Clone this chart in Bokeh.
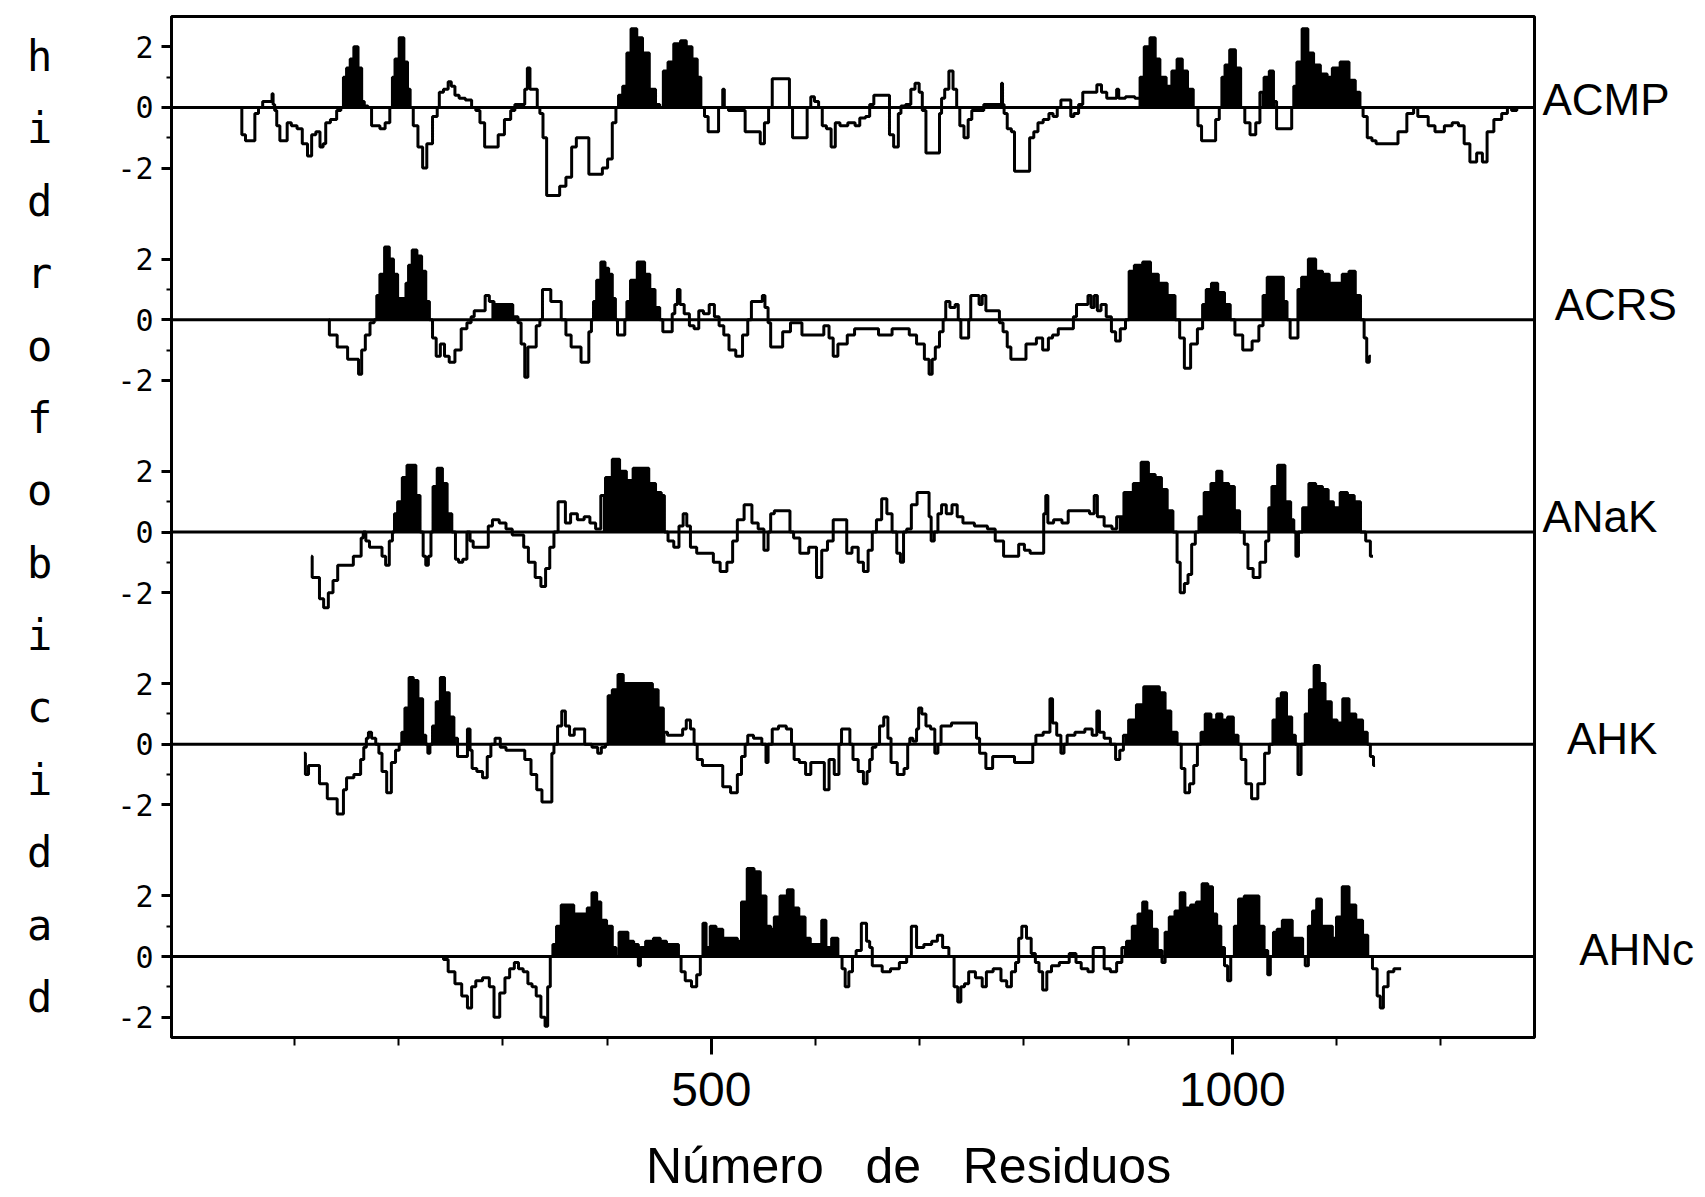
import numpy as np
from bokeh.plotting import figure
from bokeh.models import Range1d, FixedTicker, Span, LinearAxis
from bokeh.embed import file_html
from bokeh.resources import INLINE

# ---------------- data (residue, hydrophobicity) ----------------
names = ["ACMP", "ACRS", "ANaK", "AHK", "AHNc"]

ACMP = [(49,0.0),(50,-0.9),(56,-1.1),(60,-1.1),(64,-0.2),(67,0.0),(72,0.2),(78,0.2),(79,0.45),(80,0.1),(82,-0.1),(84,-0.6),(88,-1.1),(92,-1.1),(94,-0.5),(100,-0.6),(105,-0.7),(110,-1.2),(115,-1.6),(118,-0.9),(123,-0.8),(126,-1.3),(129,-1.2),(131,-0.5),(138,-0.4),(143,-0.1),(146,0.0),(148,1.0),(152,1.3),(155,1.6),(159,2.0),(163,1.3),(166,0.2),(168,0.05),(173,0.0),(175,-0.6),(180,-0.6),(184,-0.7),(190,-0.5),(193,0.0),(195,1.0),(198,1.6),(203,2.3),(207,1.5),(210,0.6),(212,0.0),(216,-0.6),(221,-1.3),(225,-2.0),(229,-1.2),(236,-0.3),(238,0.0),(240,0.5),(246,0.6),(249,0.85),(252,0.7),(256,0.4),(260,0.3),(268,0.25),(272,0.0),(276,-0.1),(280,-0.5),(285,-1.3),(293,-1.3),(298,-0.9),(305,-0.4),(310,-0.1),(313,0.1),(320,0.1),(322,0.6),(325,1.3),(327,0.6),(332,0.6),(334,0.0),(337,-0.2),(340,-1.0),(344,-2.9),(352,-2.9),(357,-2.6),(364,-2.3),(368,-1.3),(373,-1.0),(381,-1.0),(384,-2.2),(393,-2.2),(398,-2.0),(403,-1.7),(407,-0.5),(410,0.0),(412,0.4),(418,0.7),(420,1.8),(426,2.6),(431,2.3),(437,1.8),(444,0.6),(449,0.1),(452,0.0),(456,1.2),(461,1.5),(467,2.1),(474,2.2),(478,2.0),(485,1.6),(488,1.0),(492,0.0),(495,-0.3),(499,-0.8),(504,-0.8),(510,0.0),(512,0.6),(513,0.0),(520,-0.1),(530,-0.1),(535,-0.8),(545,-0.8),(549,-1.2),(553,-0.5),(557,0.0),(560,0.95),(574,0.95),(576,0.0),(580,-1.0),(590,-1.0),(594,0.0),(597,0.35),(601,0.2),(605,0.0),(608,-0.6),(613,-0.7),(617,-1.3),(621,-0.5),(626,-0.6),(636,-0.5),
        (640,-0.6),(645,-0.35),(651,-0.3),(653,0.1),(659,0.4),(670,0.4),(672,-0.9),(678,-1.3),(681,-0.2),(683,0.05),(690,0.1),(693,0.6),(698,0.8),(701,0.5),(704,-0.1),(708,-1.5),(718,-1.5),(720,-0.2),(722,0.3),(726,0.6),(730,1.2),(734,0.6),(737,0.0),(740,-0.6),(745,-1.0),(748,-0.4),(752,-0.1),(760,-0.1),(763,0.1),(778,0.1),(779,0.8),(780,0.1),(782,-0.2),(786,-0.7),(790,-0.8),(792,-2.1),(804,-2.1),(807,-1.0),(812,-0.8),(815,-0.5),(822,-0.4),(826,-0.2),(830,-0.3),(834,0.0),(837,0.25),(844,0.25),(846,-0.3),(850,-0.2),(855,0.1),(858,0.5),(868,0.5),(872,0.75),(877,0.5),(882,0.3),(888,0.3),(890,0.6),(892,0.3),(903,0.35),(910,0.3),(913,1.0),(918,2.0),(924,2.3),(928,1.6),(933,1.0),(940,0.7),(944,1.2),(950,1.6),(954,1.2),(960,0.6),(965,0.0),(969,-0.6),(972,-1.1),(982,-1.1),(986,-0.4),(989,0.0),(991,1.0),(995,1.4),(1000,1.9),(1006,1.3),(1010,0.0),(1014,-0.5),(1020,-0.9),(1025,-0.5),(1028,0.5),(1033,1.0),(1038,1.2),(1041,0.2),(1044,-0.7),(1056,-0.7),(1058,0.0),(1060,0.7),(1064,1.5),(1070,2.6),(1075,1.8),(1081,1.4),(1088,1.1),(1094,1.0),(1098,1.3),(1109,1.5),(1115,0.9),(1121,0.5),(1124,0.0),(1127,-0.3),(1132,-1.0),(1136,-1.1),(1140,-1.2),(1155,-1.2),(1163,-0.8),(1172,-0.2),(1176,0.0),(1180,-0.3),(1186,-0.3),(1190,-0.6),(1199,-0.8),(1208,-0.6),(1214,-0.5),(1220,-0.6),(1225,-1.2),(1231,-1.8),(1238,-1.5),(1242,-1.8),(1247,-0.8),(1255,-0.4),(1262,-0.2),(1266,0.0),(1270,-0.1),(1276,0.0)]

ACRS = [(133,0.0),(134,-0.5),(140,-0.5),(142,-0.9),(150,-0.9),(152,-1.3),(160,-1.3),(163,-1.8),(166,-1.0),(170,-0.5),(175,-0.1),(178,0.0),(180,0.8),(184,1.5),(189,2.4),(193,2.0),(197,1.5),(201,0.7),(206,0.7),(208,1.2),(211,1.8),(215,2.3),(220,2.1),(224,1.6),(228,0.6),(231,0.0),(234,-0.6),(238,-1.2),(242,-0.8),(246,-1.2),(251,-1.4),(257,-1.0),(263,-0.3),(268,-0.1),(271,0.1),(274,0.3),(281,0.3),(285,0.8),(289,0.6),(294,0.5),(306,0.5),(313,0.1),(316,-0.1),(319,-0.8),(323,-1.9),(325,-0.9),(330,-0.9),(334,-0.2),(337,0.0),(339,1.0),(345,1.0),(347,0.6),(354,0.6),(358,0.0),(363,-0.5),(368,-0.9),(373,-0.9),(377,-1.4),(381,-1.4),(384,-0.4),(386,0.0),(388,0.6),(392,1.3),(396,1.9),(400,1.7),(403,1.5),(407,0.7),(409,0.0),(411,-0.5),(416,-0.5),(418,0.0),(420,0.6),(425,1.3),(433,1.9),(439,1.5),(443,1.0),(449,0.4),(452,0.0),(455,-0.4),(461,-0.4),(464,0.2),(466,0.5),(469,1.0),(471,0.5),(477,0.2),(481,-0.2),(486,-0.3),(490,0.3),(495,0.2),(501,0.5),(505,0.1),(510,-0.2),(514,-0.5),(520,-1.0),(527,-1.2),(533,-0.5),(537,0.0),(540,0.6),(548,0.6),(550,0.8),(553,0.4),(556,-0.1),(558,-0.9),(565,-0.9),(572,-0.4),(580,-0.1),(585,-0.1),(589,-0.5),(605,-0.5),(611,-0.2),(615,-0.6),(619,-1.2),(624,-0.8),(628,-0.8),
        (633,-0.5),(642,-0.3),(659,-0.3),(662,-0.5),(672,-0.5),(675,-0.3),(688,-0.3),(692,-0.5),(702,-0.8),(707,-1.3),(711,-1.8),(713,-1.3),(717,-0.9),(721,-0.4),(724,0.0),(726,0.6),(732,0.4),(736,0.5),(738,0.0),(741,-0.6),(746,-0.6),(748,0.0),(750,0.8),(756,0.8),(758,0.5),(762,0.8),(765,0.3),(775,0.3),(778,-0.1),(782,-0.4),(786,-0.9),(789,-1.3),(800,-1.3),(804,-0.8),(810,-0.8),(814,-0.6),(822,-1.0),(825,-0.6),(830,-0.5),(836,-0.3),(846,-0.3),(849,0.1),(852,0.5),(860,0.5),(863,0.8),(866,0.4),(869,0.8),(872,0.3),(876,0.5),(882,0.1),(886,-0.4),(890,-0.7),(895,-0.3),(900,0.0),(902,1.6),(910,1.8),(918,1.9),(925,1.5),(933,1.2),(942,0.8),(948,0.0),(951,-0.6),(957,-1.6),(963,-0.8),(970,-0.3),(973,0.5),(977,1.0),(983,1.2),(989,0.9),(996,0.5),(1000,0.0),(1005,-0.5),(1015,-1.0),(1023,-0.7),(1028,-0.2),(1031,0.8),(1036,1.4),(1047,1.4),(1051,0.6),(1054,0.0),(1057,-0.6),(1062,-0.6),(1064,1.0),(1069,1.4),(1077,2.0),(1083,1.6),(1090,1.5),(1096,1.2),(1102,1.2),(1109,1.5),(1115,1.6),(1121,0.8),(1125,0.0),(1128,-0.6),(1130,-1.4),(1133,-1.2)]

ANaK = [(116,-0.8),(118,-1.5),(122,-1.5),(126,-2.2),(130,-2.5),(135,-2.0),(139,-1.6),(144,-1.1),(155,-1.1),(158,-0.8),(163,-0.8),(165,-0.2),(167,0.0),(170,-0.3),(174,-0.5),(182,-0.5),(186,-0.8),(189,-1.1),(193,-0.3),(195,0.0),(197,0.6),(201,1.0),(206,1.8),(210,2.2),(214,2.2),(219,1.2),(222,0.0),(225,-0.8),(227,-1.1),(230,-0.8),(232,0.0),(234,1.5),(240,2.1),(244,1.6),(249,0.6),(253,0.0),(256,-0.9),(259,-1.0),(264,-0.9),(267,0.0),(270,-0.3),(273,-0.5),(285,-0.5),(287,0.2),(293,0.4),(300,0.3),(306,0.1),(312,-0.1),(319,-0.1),(321,-0.5),(328,-1.0),(334,-1.5),(339,-1.8),(343,-1.2),(347,-0.5),(351,0.0),(355,1.0),(358,1.0),(362,0.3),(368,0.6),(375,0.4),(381,0.5),(386,0.3),(392,0.1),(396,1.2),(401,1.8),(409,2.4),(415,2.0),(422,1.7),(428,2.1),(437,2.1),(443,1.6),(450,1.3),(454,1.2),(456,0.0),(461,-0.3),(467,-0.5),(471,0.2),(475,0.6),(478,0.2),(482,-0.5),(490,-0.7),(499,-0.7),(505,-1.0),(512,-1.3),(518,-1.0),(523,-0.3),(527,0.4),(536,0.9),(542,0.3),(548,0.1),(553,-0.6),(556,0.0),(558,0.6),(563,0.7),(574,0.7),(577,0.0),(581,-0.2),(589,-0.7),(598,-0.5),(604,-1.5),(608,-0.6),(615,-0.3),(619,0.4),(628,0.4),(632,-0.7),
        (638,-0.5),(644,-1.0),(648,-1.3),(653,-0.6),(656,0.0),(661,0.4),(666,1.1),(671,0.6),(676,0.0),(680,-0.7),(683,-1.0),(686,0.0),(689,0.1),(695,0.9),(700,1.3),(708,1.3),(710,0.5),(712,-0.3),(716,0.0),(719,0.6),(723,0.9),(728,0.6),(734,0.9),(738,0.5),(745,0.3),(760,0.2),(770,0.1),(775,-0.3),(786,-0.8),(792,-0.8),(798,-0.4),(803,-0.6),(809,-0.7),(818,-0.7),(820,0.6),(822,1.2),(824,0.3),(833,0.4),(840,0.3),(845,0.7),(860,0.7),(866,0.6),(869,1.2),(872,0.5),(882,0.2),(887,0.1),(891,0.5),(901,1.3),(909,1.6),(916,2.3),(923,1.9),(929,1.8),(935,1.4),(940,0.7),(946,0.0),(948,-1.0),(952,-2.0),(956,-1.7),(959,-1.4),(963,-0.4),(966,0.0),(970,0.5),(976,1.3),(983,1.6),(987,2.0),(993,1.6),(1000,1.5),(1004,0.7),(1010,0.0),(1013,-0.4),(1017,-1.2),(1023,-1.5),(1030,-1.0),(1034,-0.3),(1036,0.8),(1040,1.5),(1047,2.2),(1054,1.0),(1058,0.4),(1060,0.0),(1062,-0.8),(1065,0.0),(1070,0.8),(1077,1.6),(1083,1.5),(1090,1.4),(1094,1.0),(1100,0.8),(1107,1.3),(1114,1.2),(1120,1.0),(1126,0.0),(1130,-0.3),(1135,-0.8)]

AHK = [(109,-0.3),(112,-1.0),(115,-0.7),(122,-0.7),(126,-1.3),(130,-1.3),(133,-1.8),(140,-1.8),(142,-2.3),(146,-2.3),(148,-1.5),(152,-1.1),(162,-1.0),(165,-0.5),(168,-0.1),(170,0.2),(172,0.4),(176,0.2),(180,0.0),(182,-0.3),(186,-0.9),(191,-1.6),(195,-0.6),(199,-0.2),(202,0.0),(204,0.4),(208,1.2),(212,2.2),(216,2.1),(221,1.5),(225,0.3),(227,0.0),(229,-0.3),(231,0.0),(234,0.6),(238,1.4),(242,2.2),(246,1.7),(251,0.9),(255,0.2),(258,-0.4),(264,-0.4),(268,0.5),(269,-0.2),(272,-0.8),(278,-0.9),(283,-1.1),(287,-0.4),(290,0.0),(295,0.2),(300,-0.1),(306,-0.2),(318,-0.2),(324,-0.5),(330,-1.0),(335,-1.5),(340,-1.9),(346,-1.9),(348,-0.3),(350,0.0),(355,0.6),(358,1.1),(362,0.6),(366,0.3),(371,0.5),(376,0.5),(381,0.0),(390,-0.1),(392,-0.3),(397,-0.1),(400,0.0),(402,1.6),(408,1.8),(413,2.3),(418,2.0),(424,2.0),(441,2.0),(446,1.8),(452,1.2),(456,0.4),(460,0.3),(471,0.3),(474,0.5),(478,0.8),(482,0.5),(485,0.0),(488,-0.5),(495,-0.7),(508,-0.7),(514,-1.4),(523,-1.6),(527,-1.0),(531,-0.4),(534,0.0),(536,0.3),(545,0.2),(552,0.0),(553,-0.6),(556,0.0),(561,0.5),(568,0.6),(576,0.5),(578,0.0),(581,-0.5),(588,-0.6),(593,-1.0),(598,-0.6),(606,-0.6),(611,-1.5),(615,-0.5),(621,-1.0),(624,0.0),(626,0.5),(632,0.5),(634,0.0),
       (638,-0.5),(644,-0.9),(648,-1.3),(651,-0.9),(653,-0.5),(656,-0.1),(660,0.0),(663,0.6),(668,0.9),(671,0.2),(674,-0.6),(683,-1.0),(687,-0.8),(690,0.0),(691,0.2),(696,0.1),(698,0.5),(700,1.2),(704,1.0),(708,0.6),(713,0.5),(716,-0.3),(719,0.0),(722,0.6),(729,0.6),(732,0.7),(753,0.7),(756,0.2),(759,-0.3),(768,-0.8),(772,-0.4),(788,-0.4),(794,-0.6),(807,-0.6),(810,0.0),(813,0.3),(824,0.4),(826,1.5),(829,0.7),(834,0.3),(837,-0.3),(840,0.0),(843,0.3),(855,0.4),(862,0.5),(869,0.3),(871,1.1),(874,0.4),(880,0.2),(886,0.0),(890,-0.5),(894,-0.2),(897,0.3),(904,0.8),(912,1.3),(918,1.9),(927,1.9),(933,1.7),(938,1.1),(944,0.4),(950,0.0),(952,-0.8),(957,-1.6),(961,-1.3),(965,-0.7),(968,0.0),(972,0.4),(976,1.0),(983,0.8),(987,1.0),(993,0.8),(998,0.9),(1004,0.3),(1007,0.0),(1010,-0.5),(1016,-1.3),(1021,-1.8),(1028,-1.3),(1034,-0.3),(1037,0.0),(1041,0.8),(1045,1.5),(1049,1.7),(1055,0.9),(1059,0.3),(1062,0.0),(1064,-1.0),(1068,0.0),(1072,1.0),(1076,1.8),(1081,2.6),(1086,2.0),(1092,1.4),(1098,0.8),(1103,0.7),(1109,1.5),(1115,1.0),(1122,0.8),(1128,0.4),(1131,0.0),(1134,-0.4),(1137,-0.7)]

AHNc = [(242,0.0),(244,-0.1),(251,-0.5),(257,-0.9),(264,-1.3),(268,-1.7),(272,-1.0),(276,-0.8),(285,-0.7),(289,-1.0),(294,-2.0),(300,-1.2),(304,-0.7),(309,-0.4),(313,-0.2),(317,-0.4),(322,-0.5),(326,-0.9),(330,-1.0),(334,-1.3),(339,-2.0),(342,-2.3),(344,-1.0),(347,0.0),(349,0.4),(354,1.0),(358,1.7),(366,1.7),(370,1.4),(379,1.4),(383,1.6),(388,2.1),(392,1.8),(396,1.2),(403,1.0),(407,0.3),(410,0.0),(413,0.8),(418,0.8),(422,0.5),(429,0.4),(431,-0.3),(433,0.3),(441,0.5),(448,0.6),(454,0.5),(460,0.4),(467,0.4),(470,0.0),(472,-0.5),(478,-0.8),(484,-1.0),(488,-0.6),(491,0.0),(493,1.1),(497,0.3),(501,1.0),(508,0.9),(514,0.6),(523,0.6),(527,0.5),(531,1.8),(538,2.9),(544,2.8),(550,2.0),(555,1.0),(559,0.9),(562,1.3),(570,2.0),(576,2.2),(581,1.6),(587,1.3),(593,0.6),(597,0.4),(604,0.4),(608,1.2),(612,0.3),(619,0.6),(624,0.0),(627,-0.4),(630,-1.0),(634,-0.5),(637,0.0),(641,0.2),(647,1.1),(651,0.5),
        (653,0.3),(656,-0.3),(660,-0.3),(668,-0.5),(676,-0.4),(685,-0.2),(690,0.0),(694,1.0),(700,0.3),(708,0.4),(715,0.5),(719,0.7),(725,0.3),(731,0.0),(735,-1.0),(738,-1.5),(741,-1.0),(745,-0.9),(749,-0.5),(758,-0.7),(762,-1.0),(766,-0.5),(775,-0.4),(781,-0.8),(786,-1.0),(790,-0.5),(794,-0.2),(796,0.6),(800,1.0),(805,0.6),(809,0.1),(813,-0.2),(816,-0.5),(820,-1.1),(824,-0.5),(829,-0.3),(839,-0.2),(848,0.1),(852,-0.2),(858,-0.4),(865,-0.5),(868,0.3),(874,0.3),(880,-0.4),(886,-0.5),(892,-0.2),(896,0.3),(901,0.5),(907,1.0),(912,1.4),(916,1.8),(920,1.5),(925,0.9),(931,0.2),(934,-0.2),(937,0.8),(942,1.3),(948,1.5),(952,2.1),(957,1.6),(963,1.7),(968,1.8),(974,2.4),(979,2.3),(983,1.4),(987,1.0),(991,0.3),(994,-0.3),(997,-0.8),(1000,0.0),(1004,1.0),(1008,1.9),(1015,2.0),(1023,2.0),(1028,1.0),(1033,0.2),(1035,-0.6),(1038,0.0),(1041,0.8),(1045,0.9),(1051,1.2),(1055,1.2),(1060,0.6),(1066,0.6),(1069,0.0),(1071,-0.3),(1075,1.0),(1079,1.5),(1083,1.9),(1088,1.0),(1094,1.0),(1098,0.6),(1102,1.3),(1109,2.3),(1115,1.7),(1122,1.2),(1128,0.7),(1132,0.0),(1137,-0.4),(1141,-1.3),(1143,-1.7),(1147,-1.0),(1152,-0.5),(1158,-0.4),(1162,-0.4)]

# residue ranges of the black-filled (hydrophobic) segments
ACMP_fill = [(146,167),(193,212),(410,492),(910,965),(989,1010),(1028,1041),(1058,1124)]
ACRS_fill = [(178,231),(289,313),(386,409),(418,452),(900,948),(970,1000),(1028,1054),(1064,1125)]
ANaK_fill = [(195,222),(232,253),(396,456),(890,946),(966,1010),(1034,1060),(1065,1126)]
AHK_fill = [(202,227),(231,255),(400,456),(897,950),(968,1007),(1037,1062),(1068,1131)]
AHNc_fill = [(347,470),(491,624),(896,1132)]

series = [ACMP, ACRS, ANaK, AHK, AHNc]
fills = [ACMP_fill, ACRS_fill, ANaK_fill, AHK_fill, AHNc_fill]

x_major = [500, 1000]
x_minor = [100, 200, 300, 400, 500, 600, 700, 800, 900, 1000, 1100, 1200]
y_tick_values = [2, 0, -2]
y_axis_letters = "hidrofobicidad"
x_title = "N\u00famero de Residuos"

# ---------------- layout ----------------
gap = 7  # vertical spacing between panels (hydrophobicity units)
offsets = [-gap * i for i in range(len(names))]

p = figure(width=1705, height=1197, output_backend="svg", toolbar_location=None,
           x_range=Range1d(-18, 1290), y_range=Range1d(-30.67, 3.0),
           min_border_left=171, min_border_right=171, min_border_top=16,
           min_border_bottom=160, background_fill_color="white",
           border_fill_color="white")
p.grid.visible = False
p.outline_line_color = "black"
p.outline_line_width = 3

for data, fl, off in zip(series, fills, offsets):
    x = np.array([d[0] for d in data], dtype=float)
    y = np.array([d[1] for d in data], dtype=float)
    for a, b in fl:
        m = (x >= a) & (x <= b)
        p.varea_step(x=x[m], y1=np.full(m.sum(), off), y2=np.maximum(y[m], 0) + off,
                     step_mode="center", fill_color="black")
    p.add_layout(Span(location=off, dimension="width", line_color="black", line_width=3))
    p.step(x, y + off, mode="center", line_color="black", line_width=3)

# x axis
xa = p.xaxis[0]
xa.ticker = FixedTicker(ticks=x_major, minor_ticks=x_minor)
xa.axis_line_width = 3
xa.major_tick_line_width = 3
xa.minor_tick_line_width = 2
xa.major_tick_out = 17
xa.major_tick_in = 0
xa.minor_tick_out = 8
xa.minor_tick_in = 0
xa.major_label_standoff = 18
xa.major_label_text_font = "Liberation Sans"
xa.major_label_text_font_size = "48px"
xa.major_label_text_color = "black"
nb = "\u00a0"
xa.axis_label = nb * 8 + x_title.replace(" ", nb * 3)
xa.axis_label_text_font = "Liberation Sans"
xa.axis_label_text_font_size = "50px"
xa.axis_label_text_font_style = "normal"
xa.axis_label_text_color = "black"
xa.axis_label_standoff = 29

# y axis
ya = p.yaxis[0]
yt, ym, overrides = [], [], {}
for off in offsets:
    for v in y_tick_values:
        yt.append(off + v)
        overrides[off + v] = str(v)
    ym.extend([off + 1, off - 1])
ya.ticker = FixedTicker(ticks=sorted(yt), minor_ticks=sorted(ym))
ya.major_label_overrides = overrides
ya.axis_line_width = 3
ya.major_tick_line_width = 3
ya.minor_tick_line_width = 2
ya.major_tick_out = 10
ya.major_tick_in = 0
ya.minor_tick_out = 5
ya.minor_tick_in = 0
ya.major_label_standoff = 8
ya.major_label_text_font = "DejaVu Sans Mono"
ya.major_label_text_font_size = "30px"
ya.major_label_text_color = "black"
# stacked letters of the y title
ya.axis_label = "\n".join(y_axis_letters)
ya.axis_label_orientation = "horizontal"
ya.axis_label_text_font = "DejaVu Sans Mono"
ya.axis_label_text_font_size = "42px"
ya.axis_label_text_font_style = "normal"
ya.axis_label_text_line_height = 1.477
ya.axis_label_text_color = "black"
ya.axis_label_standoff = 62

# series names on the right (as a label-only axis)
name_dy = [0.25, 0.5, 0.5, 0.2, 0.23]
name_pad = [0, 1, 0, 2, 3]
name_ticks, name_over = [], {}
for nm, off, dy, pad in zip(names, offsets, name_dy, name_pad):
    t = off + dy
    name_ticks.append(t)
    name_over[t] = nb * pad + nm
ra = LinearAxis(ticker=FixedTicker(ticks=sorted(name_ticks), minor_ticks=[]),
                major_label_overrides=name_over, axis_line_color=None,
                major_tick_line_color=None, minor_tick_line_color=None,
                major_tick_out=0, major_tick_in=0, major_label_standoff=8,
                major_label_text_font="Liberation Sans",
                major_label_text_font_size="44px", major_label_text_color="black")
p.add_layout(ra, "right")

open("out.html", "w").write(file_html(p, INLINE))
